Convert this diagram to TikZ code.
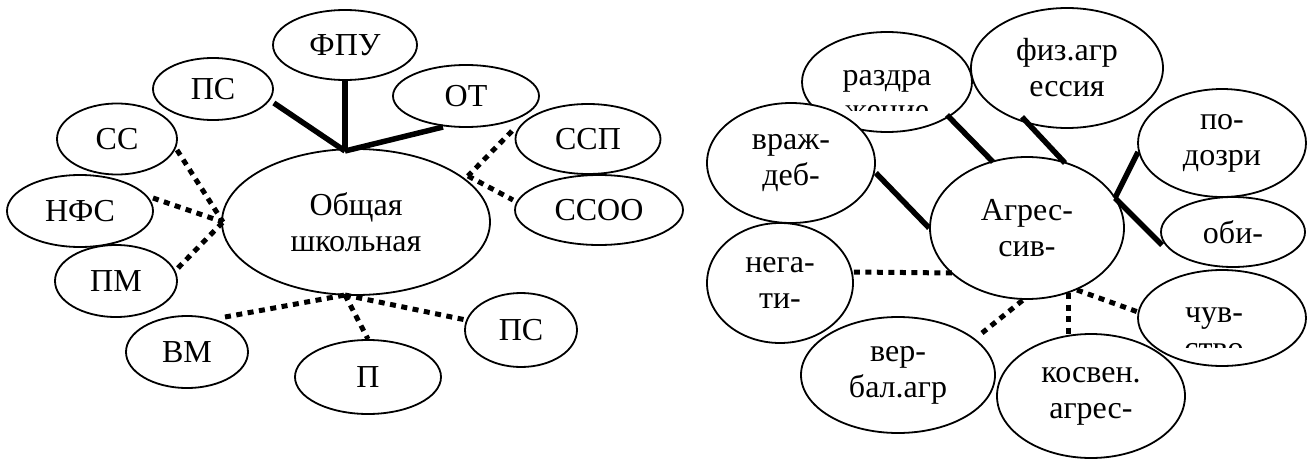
\documentclass[tikz,border=0pt]{standalone}
\usepackage{fontspec}
\setmainfont{Liberation Serif}
\usetikzlibrary{shapes.geometric,calc}
\tikzset{
  ell/.style={ellipse, draw, fill=white, line width=1.8pt, inner sep=0pt, align=center,
    font=\fontsize{32}{36}\selectfont},
  txt/.style={inner sep=0pt, align=center, font=\fontsize{32}{36}\selectfont},
  thick line/.style={line width=5.5pt},
  dot line/.style={line width=5pt, dash pattern=on 6pt off 5.5pt},
}
\newcommand{\el}[6]{\node[ell, minimum width=#4pt, minimum height=#5pt] (#1) at (#2,#3) {#6};}
\begin{document}
\begin{tikzpicture}[x=1pt,y=-1pt]
\useasboundingbox (0,0) rectangle (1307,460);
% ---------- left diagram ----------
\el{main}{356}{222}{268}{146}{Общая\\школьная}
\el{fpu}{345}{45}{144}{70}{ФПУ}
\el{ps1}{213}{89}{120}{62}{ПС}
\el{ot}{466}{96}{146}{62}{ОТ}
\el{ss}{117}{139}{120}{71}{СС}
\el{nfs}{80}{211}{146}{72}{НФС}
\el{pm}{116}{281}{122}{72}{ПМ}
\el{ssp}{588}{139}{145}{70}{ССП}
\el{ssoo}{599}{210}{168}{70}{ССОО}
\el{vm}{187}{352}{122}{72}{ВМ}
\el{p}{368}{377}{146}{74}{П}
\el{ps2}{521}{330}{112}{74}{ПС}
\coordinate (jt) at (345,151);
\coordinate (jl) at (223,222);
\coordinate (jb) at (345,295);
\coordinate (jr) at (468,176);
\draw[thick line] (fpu.south) -- (jt);
\draw[thick line] (ps1.east) ++(0,14) coordinate (a1) (a1) -- (jt);
\draw[thick line] (ot) ++(-23,31) coordinate (a2) (a2) -- (jt);
\draw[dot line] (ssp) ++(-76,-8) coordinate (a3) (a3) -- (jr);
\draw[dot line] (jr) -- ($(ssoo)+(-86,-10)$);
\draw[dot line] (ss) ++(60,11) coordinate (a4) (a4) -- (jl);
\draw[dot line] (nfs) ++(73,-13) coordinate (a5) (a5) -- (jl);
\draw[dot line] (pm) ++(62,-13) coordinate (a6) (a6) -- (jl);
\draw[dot line] (vm) ++(38,-35) coordinate (a7) (a7) -- (jb);
\draw[dot line] (jb) -- (p.north);
\draw[dot line] (jb) -- ($(ps2)+(-55,-10)$);
% ---------- right diagram ----------
\el{agr}{1027}{228}{194}{142}{Агрес-\\сив-}
\el{razd}{887}{82}{170}{100}{}
\node[txt, anchor=base] (razdA) at (887,85) {раздра};
\begin{scope}
  \clip (800,90) rectangle (975,110);
  \node[txt, anchor=base] (razdB) at (887,121) {жение};
\end{scope}
\el{fiz}{1067}{68}{192}{120}{физ.агр\\ессия}
\el{vraj}{791}{163}{168}{120}{враж-\\деб-}
\el{nega}{780}{283}{146}{120}{нега-\\ти-}
\el{podoz}{1222}{143}{168}{108}{по-\\дозри}
\el{obi}{1233}{232}{144}{70}{оби-}
\el{chuv}{1222}{318}{168}{96}{}
\node[txt, anchor=base] (chuvA) at (1214,322) {чув-};
\begin{scope}
  \clip (1140,325) rectangle (1300,347);
  \node[txt, anchor=base] (chuvB) at (1214,358) {ство};
\end{scope}
\el{ver}{898}{375}{194}{116}{вер-\\бал.агр}
\el{kosv}{1091}{396}{188}{124}{косвен.\\агрес-}
\coordinate (jr2) at (1115,198);
\draw[thick line] ($(razd)+(60,33)$) -- ($(agr)+(-34,-66)$);
\draw[thick line] ($(fiz)+(-45,49)$) -- ($(agr)+(38,-65)$);
\draw[thick line] (vraj.east) ++(0,10) coordinate (b1) (b1) -- (agr.west);
\draw[thick line] ($(podoz)+(-84,9)$) -- (jr2);
\draw[thick line] (jr2) -- ($(obi)+(-71,13)$);
\draw[dot line] (nega.east) ++(0,-11) coordinate (b2) (b2) -- ($(agr)+(-75,45)$);
\draw[dot line] ($(ver)+(84,-42)$) -- ($(agr)+(-4,72)$);
\draw[dot line] ($(agr)+(41,65)$) -- ($(kosv)+(-23,-62)$);
\draw[dot line] ($(agr)+(50,62)$) -- ($(chuv)+(-84,-6)$);
\end{tikzpicture}
\end{document}
